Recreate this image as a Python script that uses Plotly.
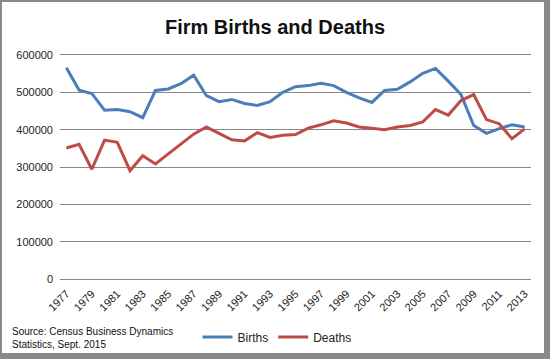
import plotly.graph_objects as go

years = [str(y) for y in range(1977, 2014)]
births = [566000, 506000, 497000, 452000, 454000, 448000, 432000, 505000, 509000, 523000,
          546000, 491000, 475000, 481000, 470000, 465000, 475000, 500000, 515000, 518000,
          524000, 518000, 500000, 485000, 473000, 505000, 508000, 528000, 551000, 564000,
          530000, 494000, 411000, 390000, 403000, 413000, 407000]
deaths = [351000, 361000, 294000, 372000, 366000, 290000, 330000, 308000, 335000, 362000,
          388000, 407000, 391000, 373000, 370000, 392000, 379000, 385000, 387000, 404000,
          413000, 424000, 418000, 407000, 404000, 400000, 407000, 411000, 421000, 454000,
          439000, 478000, 494000, 427000, 416000, 376000, 402000]
y_ticks = [0, 100000, 200000, 300000, 400000, 500000, 600000]
x_ticks = years[::2]

W, H = 550, 359
L, R, T, B = 60, 19, 55, 80
pw, ph = W - L - R, H - T - B

def px(x):
    return (x - L) / pw

def py(y):
    return (H - B - y) / ph

fig = go.Figure()
fig.add_trace(go.Scatter(x=years, y=births, name="Births", mode="lines",
                         line=dict(color="#4A7EBB", width=3)))
fig.add_trace(go.Scatter(x=years, y=deaths, name="Deaths", mode="lines",
                         line=dict(color="#BE4B48", width=3)))

gray = "#898989"
borders = [(0, 0, W, 2), (0, 0, 2, H), (544, 0, W, H), (0, 353, W, H)]
shapes = [dict(type="rect", xref="paper", yref="paper", x0=px(a), x1=px(c), y0=py(d), y1=py(b),
               fillcolor=gray, line=dict(width=0), layer="above") for a, b, c, d in borders]

fig.update_layout(
    width=W, height=H,
    margin=dict(l=L, r=R, t=T, b=B, autoexpand=False),
    paper_bgcolor="white", plot_bgcolor="white",
    font=dict(family="Liberation Sans, Arial, sans-serif", size=11, color="#222"),
    title=dict(text="<b>Firm Births and Deaths</b>", x=0.5, xanchor="center",
               y=1 - 27 / H, yanchor="middle", font=dict(size=20, color="#111")),
    xaxis=dict(type="category", range=[-0.5, len(years) - 0.5], tickmode="array",
               tickvals=x_ticks, ticktext=x_ticks, tickangle=-45, showgrid=False,
               showline=True, mirror=True, linecolor="#888", linewidth=1,
               ticks="", tickfont=dict(size=11), automargin=False, ticklabelstandoff=3),
    yaxis=dict(range=[0, 600000], tickvals=y_ticks, tickformat="d", showgrid=True,
               gridcolor="#888", gridwidth=1, zeroline=False, showline=False, ticks="",
               tickfont=dict(size=11), automargin=False, ticklabelstandoff=6),
    showlegend=True,
    legend=dict(orientation="h", x=px(277), xanchor="center", y=py(337), yanchor="middle",
                font=dict(size=12), itemwidth=30, tracegroupgap=0),
    shapes=shapes,
    annotations=[dict(text="Source: Census Business Dynamics<br>Statistics, Sept. 2015",
                      xref="paper", yref="paper", x=px(10), y=py(338), xanchor="left",
                      yanchor="middle", align="left", showarrow=False,
                      font=dict(size=10, color="#111"))],
)
fig.write_html("out.html", config={"displayModeBar": False},
               post_script="document.body.style.margin='0';")
